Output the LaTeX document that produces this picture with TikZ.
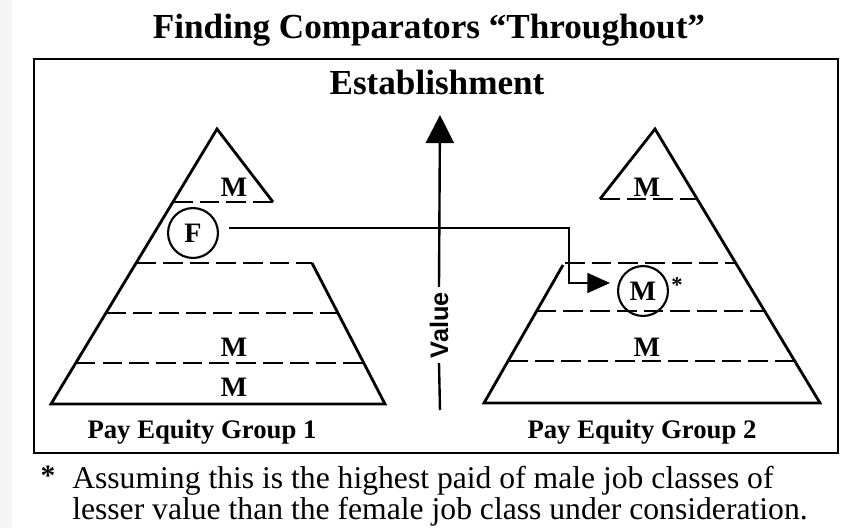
\documentclass[tikz,border=0pt]{standalone}
\usepackage{fontspec}
\setmainfont{Liberation Serif}
\setsansfont{Liberation Sans}
\usetikzlibrary{positioning, arrows.meta}

\begin{document}
\begin{tikzpicture}[x=0.025cm, y=-0.025cm,
    edge/.style={line width=2pt, line join=miter},
    level/.style={line width=2pt, dash pattern=on 14pt off 5pt},
    link/.style={line width=1.7pt},
    joblab/.style={font=\fontsize{20}{20}\selectfont\bfseries, inner sep=0pt},
    ringed/.style={circle, draw, line width=1.5pt, minimum size=35.5pt,
                   inner sep=0pt, font=\fontsize{20}{20}\selectfont\bfseries},
    grouplab/.style={font=\fontsize{19}{22}\selectfont\bfseries}]
  \useasboundingbox (0,0) rectangle (863,528);
  \fill[white] (0,0) rectangle (863,528);
  \fill[gray!8] (0,0) rectangle (12,528);

  % title and frame
  \node[font=\fontsize{25}{30}\selectfont\bfseries] (title) at (429,30)
    {Finding Comparators “Throughout”};
  \draw[line width=2pt] (34,59) rectangle (838,453);
  \node[font=\fontsize{25}{30}\selectfont\bfseries] (estab) at (437,82)
    {Establishment};

  % Pay equity group 1
  \draw[edge] (273,202) -- (217,129) -- (51,404) -- (385,404) -- (312,263);
  \foreach \y/\xa/\xb in {202/172.9/273, 263/136.1/312,
                          313/105.9/337.9, 363/75.8/363.8}{
    \draw[level] (\xa,\y) -- (\xb,\y);
  }
  \node[joblab] (m1a) at (234,187) {M};
  \node[joblab] (m1b) at (234,347) {M};
  \node[joblab] (m1c) at (234,387) {M};
  \node[ringed] (fem) at (193,233) {F};
  \node[grouplab] (grp1) at (202,432) {Pay Equity Group 1};

  % Pay equity group 2
  \draw[edge] (600,199) -- (655,129) -- (820,403) -- (484,403) -- (563,265);
  \foreach \y/\xa/\xb in {199/600/697, 263/565/735.7,
                          311/536.7/764.6, 361/508/794.7}{
    \draw[level] (\xa,\y) -- (\xb,\y);
  }
  \node[joblab] (m2a) at (647,187) {M};
  \node[joblab] (m2c) at (647,347) {M};
  \node[ringed] (male) at (643,291) {M};
  \node[font=\fontsize{16}{16}\selectfont\bfseries, inner sep=0pt] (star) at (677,285) {*};
  \node[grouplab] (grp2) at (642,432) {Pay Equity Group 2};

  % value axis
  \node[rotate=90, font=\sffamily\fontsize{18}{18}\selectfont\bfseries] (value) at (439,325) {Value};
  \draw[link, -{Triangle[length=20pt, width=20pt]}] (value.east) -- (440,115);
  \draw[link] (value.west) -- (440,410);

  % comparator link
  \coordinate (turn) at (569,228);
  \draw[link, -{Triangle[length=16pt, width=14pt]}]
    ([shift={(10,-5)}]fem.east) -- (turn) |- ([shift={(-7,-8)}]male.west);

  % footnote
  \node[font=\fontsize{21}{21}\selectfont\bfseries, inner sep=0pt] (fnstar) at (48,476) {*};
  \node[anchor=north west, align=left, inner sep=0pt,
        font=\fontsize{22.5}{20}\selectfont] (note) at (72,466)
    {Assuming this is the highest paid of male job classes of\\
     lesser value than the female job class under consideration.};
\end{tikzpicture}
\end{document}
